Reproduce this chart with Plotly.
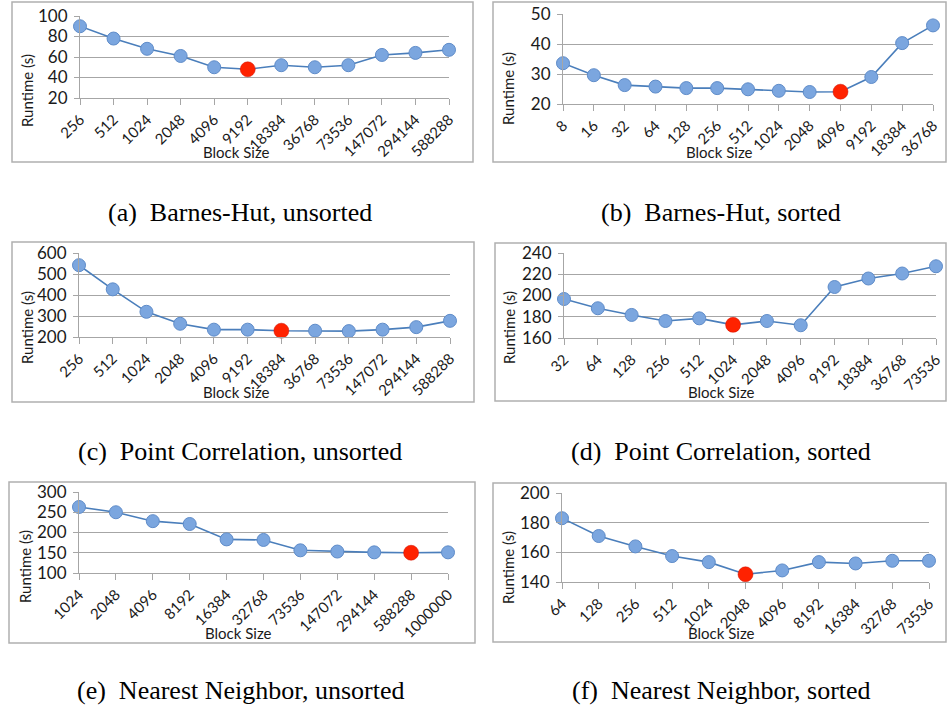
import plotly.graph_objects as go

W, H = 948, 711

# ---------------- data ----------------
a_labels = ["256", "512", "1024", "2048", "4096", "9192", "18384", "36768", "73536", "147072", "294144", "588288"]
a_values = [90, 78, 68, 61, 50, 48, 52, 50, 52, 62, 64, 67]
a_best = "9192"

b_labels = ["8", "16", "32", "64", "128", "256", "512", "1024", "2048", "4096", "9192", "18384", "36768"]
b_values = [33.6, 29.6, 26.3, 25.8, 25.3, 25.3, 24.9, 24.4, 24.0, 24.1, 29.0, 40.3, 46.2]
b_best = "4096"

c_labels = ["256", "512", "1024", "2048", "4096", "9192", "18384", "36768", "73536", "147072", "294144", "588288"]
c_values = [542, 427, 320, 263, 235, 235, 230, 230, 228, 235, 247, 277]
c_best = "18384"

d_labels = ["32", "64", "128", "256", "512", "1024", "2048", "4096", "9192", "18384", "36768", "73536"]
d_values = [196.7, 188, 181.7, 176, 178.5, 172.4, 176, 172, 208, 216, 220.7, 227.5]
d_best = "1024"

e_labels = ["1024", "2048", "4096", "8192", "16384", "32768", "73536", "147072", "294144", "588288", "1000000"]
e_values = [263, 250, 228, 221, 183, 181.6, 156, 153, 151, 150, 151]
e_best = "588288"

f_labels = ["64", "128", "256", "512", "1024", "2048", "4096", "8192", "16384", "32768", "73536"]
f_values = [183, 171, 164, 157.5, 153.4, 145.2, 147.8, 153.4, 152.5, 154.3, 154.3]
f_best = "2048"

captions = ["(a)  Barnes-Hut, unsorted", "(b)  Barnes-Hut, sorted",
            "(c)  Point Correlation, unsorted", "(d)  Point Correlation, sorted",
            "(e)  Nearest Neighbor, unsorted", "(f)  Nearest Neighbor, sorted"]
y_ranges = [(20, 100), (20, 50), (200, 600), (160, 240), (100, 300), (140, 200)]
y_dticks = [20, 10, 100, 20, 50, 20]
x_title = "Block Size"
y_title = "Runtime (s)"

# ---------------- layout geometry (window pixels) ----------------
panels = [
    dict(plot=(80, 449, 16, 98), box=(12, 473, 2, 162), ytitle=(27, 91), xtitle=(236, 152), cap=(240, 212)),
    dict(plot=(563, 933, 14, 104), box=(493, 946, 2, 162), ytitle=(508, 89), xtitle=(719, 152), cap=(721, 212)),
    dict(plot=(79, 450, 253, 337), box=(12, 474, 242, 402), ytitle=(27, 328), xtitle=(236, 392), cap=(240, 451)),
    dict(plot=(564, 936, 253, 338), box=(495, 946, 243, 401), ytitle=(509, 328), xtitle=(721, 392), cap=(721, 451)),
    dict(plot=(79, 448, 492, 573), box=(9, 475, 482, 643), ytitle=(25, 567), xtitle=(239, 633), cap=(240, 690)),
    dict(plot=(562, 929, 493, 582), box=(493, 946, 483, 642), ytitle=(508, 568), xtitle=(721, 633), cap=(721, 690)),
]

def px(x):
    return x / W

def py(y):
    return 1 - y / H

series = [(a_labels, a_values, a_best), (b_labels, b_values, b_best), (c_labels, c_values, c_best),
          (d_labels, d_values, d_best), (e_labels, e_values, e_best), (f_labels, f_values, f_best)]

LINE = "#4a7ebb"
MARK = "#7ba6df"
MARK_EDGE = "#5f8cc9"
RED = "#ff2200"
GRID = "#a6a6a6"
XTICKFONT = dict(family="Lato, Open Sans, sans-serif", size=15, color="#1a1a1a")
YTICKFONT = dict(family="Lato, Open Sans, sans-serif", size=17, color="#1a1a1a")
YTITLEFONT = dict(family="Lato, Open Sans, sans-serif", size=15, color="#1a1a1a")
XTITLEFONT = dict(family="Lato, Open Sans, sans-serif", size=15, color="#1a1a1a")
CAPFONT = dict(family="Liberation Serif, Times New Roman, serif", size=26, color="#000000")

fig = go.Figure()
layout = dict(width=W, height=H, margin=dict(l=0, r=0, t=0, b=0, autoexpand=False),
              template="none",
              paper_bgcolor="white", plot_bgcolor="white", showlegend=False)
shapes = []
annotations = []

for i, ((labels, values, best), p) in enumerate(zip(series, panels)):
    k = "" if i == 0 else str(i + 1)
    xa, ya = "x" + k, "y" + k
    bi = labels.index(best)
    fig.add_trace(go.Scatter(x=labels, y=values, mode="lines+markers", xaxis=xa, yaxis=ya,
                             line=dict(color=LINE, width=1.6),
                             marker=dict(size=13, color=MARK, line=dict(color=MARK_EDGE, width=1)),
                             cliponaxis=False))
    fig.add_trace(go.Scatter(x=[labels[bi]], y=[values[bi]], mode="markers", xaxis=xa, yaxis=ya,
                             marker=dict(size=15, color=RED, line=dict(color="#d01000", width=0.5)),
                             cliponaxis=False))
    x0, x1, y0, y1 = p["plot"]
    layout["xaxis" + k] = dict(domain=[px(x0), px(x1)], anchor=ya, type="category",
                               categoryorder="array", categoryarray=labels,
                               range=[0, len(labels) - 1], tickangle=-45, tickfont=XTICKFONT,
                               showgrid=False, showline=True, linecolor=GRID, linewidth=1,
                               ticks="outside", ticklen=6, tickcolor=GRID, zeroline=False,
                               ticklabeloverflow="allow",
                               automargin=False, fixedrange=True)
    r0, r1 = y_ranges[i]
    layout["yaxis" + k] = dict(domain=[py(y1), py(y0)], anchor=xa, range=[r0, r1],
                               dtick=y_dticks[i], tick0=r0, tickfont=YTICKFONT,
                               showgrid=True, gridcolor=GRID, gridwidth=1,
                               showline=True, linecolor=GRID, linewidth=1,
                               ticks="outside", ticklen=5, tickcolor=GRID, zeroline=False,
                               ticklabelstandoff=3, ticklabeloverflow="allow",
                               automargin=False, fixedrange=True)
    bx0, bx1, by0, by1 = p["box"]
    shapes.append(dict(type="rect", xref="paper", yref="paper", x0=px(bx0), x1=px(bx1),
                       y0=py(by1), y1=py(by0), line=dict(color="#b0b0b0", width=1.5)))
    tx, ty = p["ytitle"]
    annotations.append(dict(text=y_title, x=px(tx), y=py(ty), xref="paper", yref="paper",
                            showarrow=False, textangle=-90, font=YTITLEFONT,
                            xanchor="center", yanchor="middle"))
    tx, ty = p["xtitle"]
    annotations.append(dict(text=x_title, x=px(tx), y=py(ty), xref="paper", yref="paper",
                            showarrow=False, font=XTITLEFONT, xanchor="center", yanchor="middle"))
    cx, cy = p["cap"]
    annotations.append(dict(text=captions[i], x=px(cx), y=py(cy), xref="paper", yref="paper",
                            showarrow=False, font=CAPFONT, xanchor="center", yanchor="middle"))

layout["shapes"] = shapes
layout["annotations"] = annotations
fig.update_layout(**layout)
# remove the browser's default page margin so the figure sits at the window origin
fig.write_html("out.html", config={"displayModeBar": False},
               post_script="document.body.style.margin='0px';document.body.style.overflow='hidden';")
